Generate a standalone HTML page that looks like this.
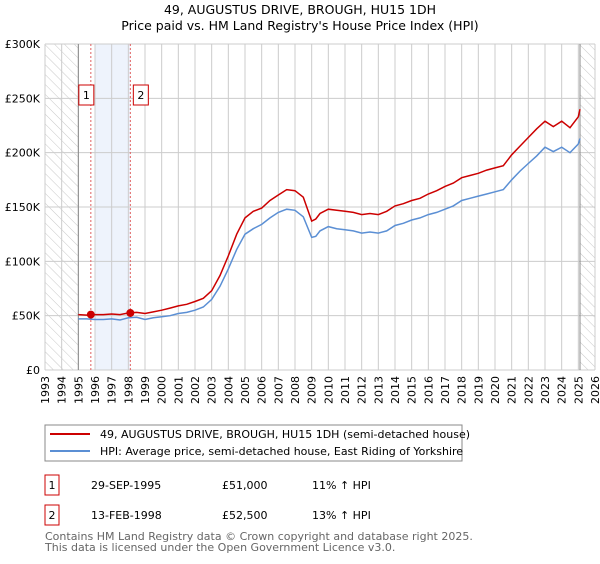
<!DOCTYPE html>
<html><head><meta charset="utf-8"><style>
body{margin:0;background:#fff;font-family:"DejaVu Sans","Liberation Sans",sans-serif}
svg text{font-family:"DejaVu Sans","Liberation Sans",sans-serif}
</style></head><body>
<svg id="c" width="600" height="560">
<defs><pattern id="hatch" patternUnits="userSpaceOnUse" width="7" height="7" patternTransform="rotate(-45)"><line x1="0" y1="0" x2="0" y2="7" stroke="#c8c8c8" stroke-width="1"/></pattern></defs>
<text x="300" y="14" text-anchor="middle" font-size="12.5">49, AUGUSTUS DRIVE, BROUGH, HU15 1DH</text>
<text x="300" y="30" text-anchor="middle" font-size="12.5">Price paid vs. HM Land Registry's House Price Index (HPI)</text>
<g id="plot"></g>
<rect x="45" y="425" width="417" height="36" fill="#fff" stroke="#888"/>
<line x1="50" y1="434" x2="90" y2="434" stroke="#cc0000" stroke-width="2"/>
<text x="100" y="438" font-size="11">49, AUGUSTUS DRIVE, BROUGH, HU15 1DH (semi-detached house)</text>
<line x1="50" y1="451" x2="90" y2="451" stroke="#5b8fd4" stroke-width="2"/>
<text x="100" y="455" font-size="11">HPI: Average price, semi-detached house, East Riding of Yorkshire</text>
<g font-size="11">
<rect x="45" y="475" width="14" height="20" fill="#fff" stroke="#cc0000"/><text x="52" y="489" text-anchor="middle">1</text>
<text x="91" y="489">29-SEP-1995</text><text x="222" y="489">£51,000</text><text x="312" y="489">11% ↑ HPI</text></g>
<g font-size="11">
<rect x="45" y="505" width="14" height="20" fill="#fff" stroke="#cc0000"/><text x="52" y="519" text-anchor="middle">2</text>
<text x="91" y="519">13-FEB-1998</text><text x="222" y="519">£52,500</text><text x="312" y="519">13% ↑ HPI</text></g>
<text x="45" y="540" font-size="11" fill="#666">Contains HM Land Registry data © Crown copyright and database right 2025.</text>
<text x="45" y="551" font-size="11" fill="#666">This data is licensed under the Open Government Licence v3.0.</text>
</svg>
<script>
const dates=[1995,1995.5,1996,1996.5,1997,1997.5,1998,1998.5,1999,1999.5,2000,2000.5,2001,2001.5,2002,2002.5,2003,2003.5,2004,2004.5,2005,2005.5,2006,2006.5,2007,2007.5,2008,2008.5,2009,2009.25,2009.5,2010,2010.5,2011,2011.5,2012,2012.5,2013,2013.5,2014,2014.5,2015,2015.5,2016,2016.5,2017,2017.5,2018,2018.5,2019,2019.5,2020,2020.5,2021,2021.5,2022,2022.5,2023,2023.5,2024,2024.5,2025,2025.1];
const hpi=[47,47,46.5,46.5,47,46,48,48.5,46.5,48,49,50,52,53,55,58,65,77,93,111,125,130,134,140,145,148,147,141,122,123,128,132,130,129,128,126,127,126,128,133,135,138,140,143,145,148,151,156,158,160,162,164,166,175,183,190,197,205,201,205,200,208,213];
const price=[51,50.5,51,51,51.5,51,52.5,53,52,53.5,55,57,59,60.5,63,66,73,87,105,125,140,146,149,156,161,166,165,159,137,139,144,148,147,146,145,143,144,143,146,151,153,156,158,162,165,169,172,177,179,181,184,186,188,198,206,214,222,229,224,229,223,233,240];
const years=[];for(let y=1993;y<=2026;y++)years.push(y);
const yTicks=[0,50,100,150,200,250,300];
const yLabels=["£0","£50K","£100K","£150K","£200K","£250K","£300K"];
const sales=[[1995.75,51],[1998.12,52.5]];
const X=d=>45+(d-1993)*(550/33), Y=v=>370-v*(326/300);
const g=document.getElementById('plot'),NS='http://www.w3.org/2000/svg';
function mk(t,a,p){const e=document.createElementNS(NS,t);for(const k in a)e.setAttribute(k,a[k]);(p||g).appendChild(e);return e;}
let e;
e=mk('rect',{x:X(1993),y:Y(300),width:X(1995)-X(1993),height:Y(0)-Y(300),fill:'url(#hatch)'});


e=mk('rect',{x:X(2025.1),y:Y(300),width:X(2026)-X(2025.1),height:Y(0)-Y(300),fill:'url(#hatch)'});


e=mk('rect',{x:X(1996),y:Y(300),width:X(sales[1][0])-X(1996),height:Y(0)-Y(300),fill:'#eef3fc'});


years.forEach(y=>{e=mk('line',{x1:X(y),x2:X(y),y1:Y(0),y2:Y(300),stroke:'#ccc'});


e=mk('text',{x:0,y:0,'font-size':11,'text-anchor':'end',transform:`translate(${X(y)+4},${Y(0)+6}) rotate(-90)`});e.textContent=y;

});
yTicks.forEach((v,i)=>{e=mk('line',{x1:X(1993),x2:X(2026),y1:Y(v),y2:Y(v),stroke:'#ccc'});


e=mk('text',{x:40,y:Y(v)+4,'font-size':11,'text-anchor':'end'});e.textContent=yLabels[i];

});
[1995,2025.1].forEach(d=>{e=mk('line',{x1:X(d),x2:X(d),y1:Y(0),y2:Y(300),stroke:'#888'});

});
sales.forEach((s,i)=>{e=mk('line',{x1:X(s[0]),x2:X(s[0]),y1:Y(0),y2:Y(300),stroke:'#e06060','stroke-dasharray':'2,2'});

});
const line=a=>dates.map((d,i)=>(i?'L':'M')+X(d).toFixed(1)+','+Y(a[i]).toFixed(1)).join('');
e=mk('path',{d:line(hpi),fill:'none',stroke:'#5b8fd4','stroke-width':1.5});


e=mk('path',{d:line(price),fill:'none',stroke:'#cc0000','stroke-width':1.5});


sales.forEach((s,i)=>{e=mk('circle',{cx:X(s[0]),cy:Y(s[1]),r:4,fill:'#cc0000'});


const bx=X(s[0])-(i?-3:12);
e=mk('rect',{x:bx,y:85,width:15,height:20,fill:'#fff',stroke:'#cc0000'});


e=mk('text',{x:bx+7.5,y:99,'font-size':11,'text-anchor':'middle'});e.textContent=i+1;

});
</script>
</body></html>
